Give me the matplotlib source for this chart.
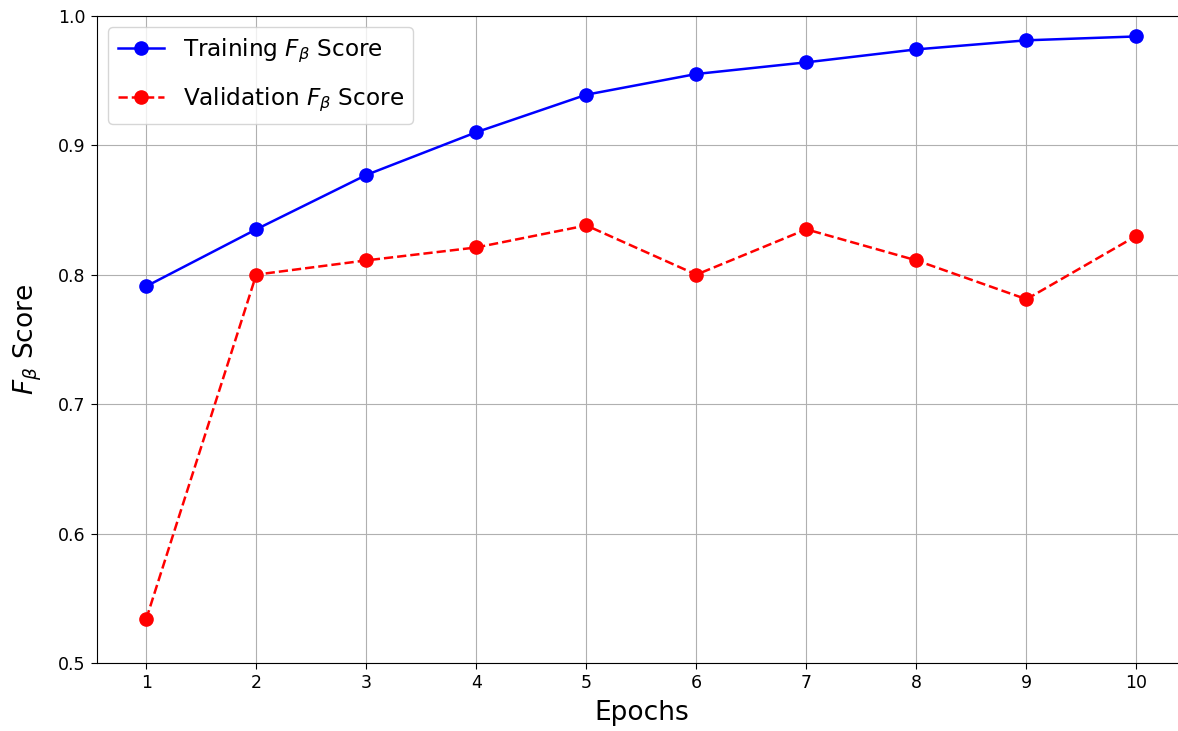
import matplotlib
matplotlib.use("Agg")
import matplotlib.pyplot as plt

epochs = [1, 2, 3, 4, 5, 6, 7, 8, 9, 10]
train_fbeta = [0.791, 0.835, 0.877, 0.910, 0.939, 0.955, 0.964, 0.974, 0.981, 0.984]
val_fbeta = [0.534, 0.800, 0.811, 0.821, 0.838, 0.800, 0.835, 0.811, 0.781, 0.830]

fig = plt.figure(figsize=(11.78, 7.31), dpi=100)
# the right spine sits just past the image edge in the original
ax = fig.add_axes([0.0821, 0.093, 0.9247, 0.8855])

ax.plot(epochs, train_fbeta, color='b', marker='o', linestyle='-',
        linewidth=1.8, markersize=9.5, label=r'Training $F_\beta$ Score')
ax.plot(epochs, val_fbeta, color='r', marker='o', linestyle='--',
        linewidth=1.8, markersize=9.5, label=r'Validation $F_\beta$ Score')

ax.set_ylim(0.5, 1.0)
ax.set_xticks(epochs)
ax.set_xlabel('Epochs', fontsize=19, labelpad=6)
ax.set_ylabel(r'$F_\beta$ Score', fontsize=19, labelpad=10)
ax.tick_params(labelsize=12.5, length=4.5)
ax.grid(True)
ax.legend(loc='upper left', fontsize=16.7, labelspacing=0.9)

fig.savefig('out.png', dpi=100)
